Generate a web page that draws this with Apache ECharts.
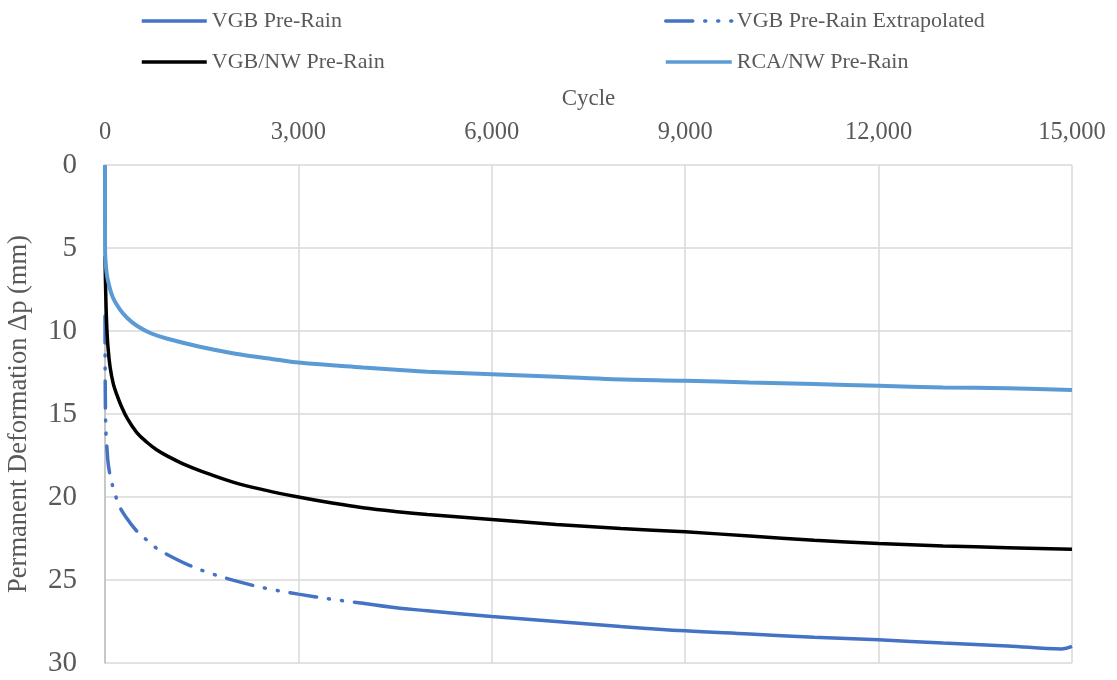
<!DOCTYPE html>
<html>
<head>
<meta charset="utf-8">
<script src="https://cdn.jsdelivr.net/npm/echarts@6/dist/echarts.min.js"></script>
<style>
  html, body { margin: 0; padding: 0; background: #fff; }
  #chart { width: 1117px; height: 680px; }
</style>
</head>
<body>
<div id="chart"></div>
<script>
// Permanent deformation (mm) against load cycle, pre-rain stage
const seriesNames = ['VGB Pre-Rain', 'VGB Pre-Rain Extrapolated', 'VGB/NW Pre-Rain', 'RCA/NW Pre-Rain'];

// [cycle, deformation]
const vgbPreRain = [
  [4000, 26.4], [4575, 26.7], [5000, 26.85], [6000, 27.2], [7000, 27.5], [8000, 27.8],
  [9000, 28.06], [10000, 28.25], [11000, 28.45], [12000, 28.6], [13000, 28.8],
  [14000, 28.97], [14840, 29.15], [15000, 29.0]
];

const vgbPreRainExtrapolated = [
  [0, 9.1], [5, 14.0], [15, 16.1], [31, 17.1], [50, 18.0], [90, 18.9], [140, 19.6],
  [217, 20.5], [341, 21.3], [481, 22.0], [650, 22.6], [806, 23.1], [1008, 23.55],
  [1300, 24.1], [1600, 24.55], [2070, 25.1], [2500, 25.5], [3000, 25.85],
  [3500, 26.15], [4000, 26.4]
];

const vgbNwPreRain = [
  [0, 5.5], [10, 7.5], [25, 9.5], [47, 11.0], [80, 12.2], [130, 13.2], [180, 13.8],
  [250, 14.5], [350, 15.3], [490, 16.1], [650, 16.7], [800, 17.15], [1000, 17.6],
  [1210, 18.0], [1500, 18.45], [1985, 19.1], [2500, 19.6], [3000, 20.0], [3500, 20.35],
  [4000, 20.65], [4575, 20.9], [5000, 21.05], [6000, 21.35], [7000, 21.65],
  [8000, 21.9], [9000, 22.1], [10000, 22.35], [11000, 22.6], [12000, 22.8],
  [13000, 22.95], [14000, 23.05], [15000, 23.15]
];

const rcaNwPreRain = [
  [0, 0], [1, 5.0], [5, 5.6], [25, 6.5], [60, 7.2], [124, 8.0], [230, 8.7], [341, 9.2],
  [500, 9.7], [720, 10.15], [1000, 10.5], [1470, 10.95], [2000, 11.35], [2714, 11.75],
  [3000, 11.9], [4000, 12.2], [4575, 12.35], [5000, 12.45], [6000, 12.6], [7000, 12.75],
  [7880, 12.9], [9000, 13.0], [10000, 13.1], [11000, 13.2], [12000, 13.3],
  [13000, 13.4], [14000, 13.45], [15000, 13.55]
];

const xTicks = { min: 0, max: 15000, interval: 3000 };
const yTicks = { min: 0, max: 30, interval: 5 };

const FONT = '"Liberation Serif", "Times New Roman", serif';
const TEXT = '#595959';
const GRID = '#D9D9D9';

const chart = echarts.init(document.getElementById('chart'), null, { renderer: 'canvas' });

const legendCommon = {
  orient: 'vertical',
  top: 5,
  itemHeight: 16, itemGap: 19,
  itemStyle: { opacity: 0 },
  lineStyle: { width: 3.5 },
  textStyle: { fontFamily: FONT, fontSize: 22, color: TEXT }
};

const curve = { type: 'line', symbol: 'none', smooth: 0.4 };

chart.setOption({
  animation: false,
  backgroundColor: '#fff',
  legend: [
    Object.assign({ data: [seriesNames[0], seriesNames[2]], left: 135, itemWidth: 65 }, legendCommon),
    Object.assign({ data: [seriesNames[1], seriesNames[3]], left: 659, itemWidth: 66 }, legendCommon)
  ],
  grid: { left: 105, right: 45, top: 165, bottom: 17, containLabel: false, outerBoundsMode: 'none' },
  xAxis: {
    type: 'value',
    position: 'top',
    min: xTicks.min, max: xTicks.max, interval: xTicks.interval,
    name: 'Cycle',
    nameLocation: 'middle',
    nameGap: 55,
    nameTextStyle: { fontFamily: FONT, fontSize: 23, color: TEXT },
    axisLine: { show: false },
    axisTick: { show: false },
    axisLabel: {
      fontFamily: FONT, fontSize: 24.5, color: TEXT, margin: 20,
      formatter: v => v.toLocaleString('en-US')
    },
    splitLine: { show: true, lineStyle: { color: GRID, width: 1.5 } }
  },
  yAxis: {
    type: 'value',
    inverse: true,
    min: yTicks.min, max: yTicks.max, interval: yTicks.interval,
    name: 'Permanent Deformation \u0394p (mm)',
    nameLocation: 'middle',
    nameGap: 72,
    nameTextStyle: { fontFamily: FONT, fontSize: 26.5, color: TEXT },
    axisLine: { show: true, lineStyle: { color: '#BFBFBF', width: 1.5 } },
    axisTick: { show: false },
    axisLabel: { fontFamily: FONT, fontSize: 29, color: TEXT, margin: 28 },
    splitLine: { show: true, lineStyle: { color: GRID, width: 1.5 } }
  },
  series: [
    Object.assign({}, curve, {
      name: seriesNames[0], data: vgbPreRain, color: '#4472C4',
      lineStyle: { width: 3.5, color: '#4472C4' }
    }),
    Object.assign({}, curve, {
      name: seriesNames[1], data: vgbPreRainExtrapolated, color: '#4472C4',
      lineStyle: { width: 3.5, color: '#4472C4', type: [27, 12, 1, 12, 1, 12], cap: 'round' }
    }),
    Object.assign({}, curve, {
      name: seriesNames[2], data: vgbNwPreRain, color: '#000000',
      lineStyle: { width: 3.5, color: '#000000' }
    }),
    Object.assign({}, curve, {
      name: seriesNames[3], data: rcaNwPreRain, color: '#5B9BD5',
      lineStyle: { width: 4, color: '#5B9BD5' }
    })
  ]
});
</script>
</body>
</html>
